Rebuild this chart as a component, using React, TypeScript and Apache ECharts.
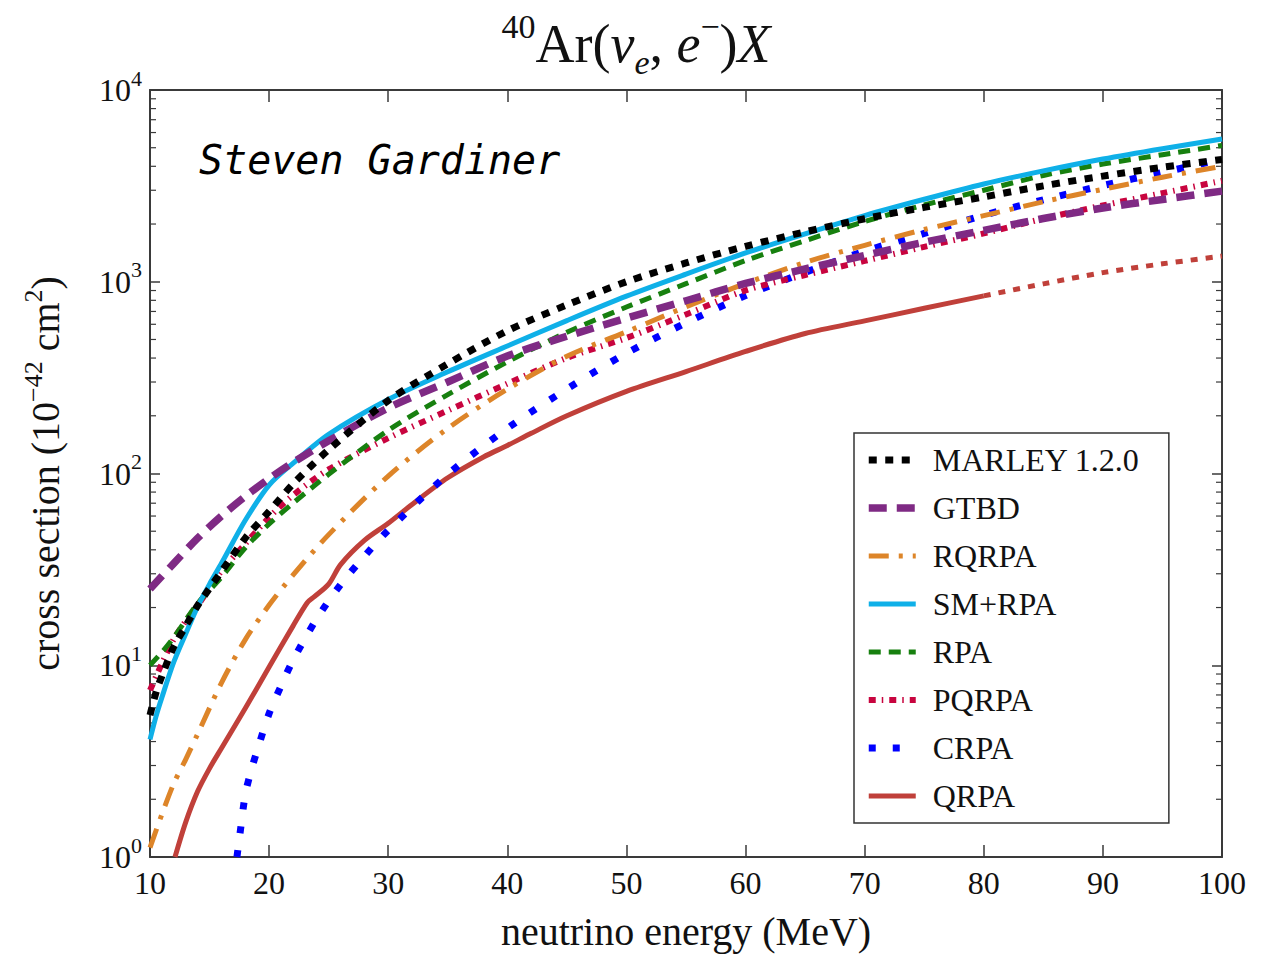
import React, { useEffect, useRef } from "react";
import * as echarts from "echarts";

const SERIF = "'Liberation Serif', 'DejaVu Serif', serif";

// Axis ranges
const energyMin = 10;
const energyMax = 100;
const energyStep = 10;
const xsMin = 1;
const xsMax = 10000;

// Log-axis minor tick positions (2..9 within each decade)
const minorTicks = [
  2, 3, 4, 5, 6, 7, 8, 9,
  20, 30, 40, 50, 60, 70, 80, 90,
  200, 300, 400, 500, 600, 700, 800, 900,
  2000, 3000, 4000, 5000, 6000, 7000, 8000, 9000,
];

// Cross sections (10^-42 cm^2) versus neutrino energy (MeV)
const marleyEnergy = [10, 10.5, 11, 12, 13, 14, 16, 18, 20, 22, 25, 30, 35, 40, 45, 50, 55, 60, 65, 70, 75, 80, 85, 90, 95, 100];
const marleyXS = [5.5, 7.2, 8.8, 12.5, 16, 20.5, 30.8, 46, 63.5, 88, 133, 240, 373, 555, 757, 1000, 1253, 1530, 1820, 2130, 2443, 2770, 3162, 3556, 3954, 4345];

const gtbdEnergy = [10, 12, 14, 16, 18, 20, 22, 25, 30, 35, 40, 45, 50, 55, 60, 65, 70, 75, 80, 85, 90, 95, 100];
const gtbdXS = [25, 34, 46, 60, 76, 94, 114, 148, 220, 300, 410, 520, 646, 796, 980, 1166, 1372, 1607, 1853, 2136, 2426, 2686, 2970];

const rqrpaEnergy = [10, 11, 12, 13, 14, 16, 18, 20, 22, 25, 30, 35, 40, 45, 50, 55, 60, 65, 70, 75, 80, 85, 90, 95, 100];
const rqrpaXS = [1.12, 1.67, 2.42, 3.23, 4.38, 8.1, 13.6, 20.6, 29.5, 48, 97, 172, 275, 409, 548, 740, 980, 1262, 1549, 1872, 2211, 2614, 3034, 3509, 4000];

const smrpaEnergy = [10, 10.5, 11, 12, 13, 14, 15, 16, 18, 20, 22, 25, 30, 35, 40, 45, 50, 55, 60, 65, 70, 75, 80, 85, 90, 95, 100];
const smrpaXS = [4.1, 5.4, 6.8, 10.4, 14.6, 20.2, 26.5, 34, 57, 87, 113, 160, 243, 339, 462, 627, 841, 1096, 1413, 1778, 2213, 2692, 3236, 3784, 4365, 4943, 5546];

const rpaEnergy = [10, 11, 12, 14, 16, 18, 20, 22, 25, 30, 35, 40, 45, 50, 55, 60, 65, 70, 75, 80, 85, 90, 95, 100];
const rpaXS = [10, 11.7, 14, 21, 28.8, 41, 54.6, 70, 99, 168, 258, 382, 545, 738, 977, 1290, 1637, 2062, 2514, 3000, 3584, 4110, 4596, 5140];

const pqrpaEnergy = [10, 11, 12, 13, 14, 16, 18, 20, 22, 25, 30, 35, 40, 45, 50, 55, 60, 65, 70, 75, 80, 85, 90, 95, 100];
const pqrpaXS = [7.4, 10.2, 13.7, 17, 20.5, 31, 43, 59, 77, 105, 153, 213, 294, 401, 509, 675, 901, 1084, 1285, 1520, 1786, 2134, 2500, 2900, 3360];

const crpaEnergy = [17.3, 17.6, 18, 18.5, 19, 20, 21, 22, 24, 26, 28, 30, 35, 40, 45, 50, 55, 60, 65, 70, 75, 80, 85, 90, 95, 100];
const crpaXS = [1.0, 1.39, 2.12, 2.84, 3.6, 5.6, 7.8, 10.6, 17.5, 26.3, 37, 50.6, 99, 172, 276, 424, 610, 847, 1120, 1442, 1786, 2223, 2674, 3175, 3717, 4345];

const qrpaEnergy = [12.1, 13, 14, 15, 16, 18, 20, 22, 23.2, 23.8, 25, 26, 28, 30, 32, 35, 38, 40, 42, 45, 50, 55, 60, 65, 70, 75, 80];
const qrpaXS = [1.0, 1.52, 2.2, 2.9, 3.69, 5.96, 9.8, 16, 21.2, 22.8, 26.5, 33.5, 44.8, 55, 69, 95, 122, 140, 162, 200, 268, 340, 433, 537, 625, 727, 844];

// QRPA beyond 80 MeV (dotted continuation)
const qrpaTailEnergy = [80, 85, 90, 95, 100];
const qrpaTailXS = [844, 975, 1116, 1240, 1360];

const legendNames = ["MARLEY 1.2.0", "GTBD", "RQRPA", "SM+RPA", "RPA", "PQRPA", "CRPA", "QRPA"];

const pairs = (e: number[], v: number[]) => e.map((x, i) => [x, v[i]]);

const curve = (
  name: string,
  energy: number[],
  xs: number[],
  color: string,
  width: number,
  dash: number[] | "solid",
  z: number
) => ({
  type: "line",
  name,
  data: pairs(energy, xs),
  symbol: "none",
  showSymbol: false,
  smooth: 0.3,
  clip: true,
  silent: true,
  z,
  itemStyle: { color },
  lineStyle: { color, width, type: dash, cap: "butt", join: "round" },
  emphasis: { disabled: true },
});

export default function App() {
  const ref = useRef<HTMLDivElement>(null);

  useEffect(() => {
    if (!ref.current) return;
    const chart = echarts.init(ref.current, undefined, { renderer: "svg" });

    const axisLine = { show: true, lineStyle: { color: "#3a3a3a", width: 2 } };
    const tickStyle = { color: "#3a3a3a", width: 1.5 };

    const supRich = {
      b: { fontFamily: SERIF, fontSize: 32, color: "#111", lineHeight: 46 },
      s: { fontFamily: SERIF, fontSize: 22, color: "#111", lineHeight: 20, verticalAlign: "top" },
    };

    const titleBase = { fontFamily: SERIF, color: "#111", fontWeight: "normal" };

    const option: any = {
      animation: false,
      backgroundColor: "#ffffff",
      title: {
        text: "{sup|40}{rm|Ar(}{it|ν}{sub|e}{rm|, }{it|e}{sup|−}{rm|)}{it|X}",
        left: "center",
        top: 4,
        textStyle: {
          fontWeight: "normal",
          rich: {
            rm: { ...titleBase, fontSize: 54, lineHeight: 70 },
            it: { ...titleBase, fontSize: 54, fontStyle: "italic", lineHeight: 70 },
            sup: { ...titleBase, fontSize: 34, lineHeight: 38, verticalAlign: "top" },
            sub: { ...titleBase, fontSize: 34, fontStyle: "italic", lineHeight: 38, verticalAlign: "bottom" },
          },
        },
      },
      grid: { left: 150, right: 50, top: 90, bottom: 96, containLabel: false },
      legend: {
        orient: "vertical",
        left: 854,
        top: 433,
        data: legendNames,
        selectedMode: false,
        itemWidth: 47,
        itemHeight: 10,
        itemGap: 16,
        padding: [11, 29, 11, 11],
        borderColor: "#333",
        borderWidth: 1.5,
        borderRadius: 0,
        backgroundColor: "#fff",
        itemStyle: { opacity: 0 },
        lineStyle: { width: "inherit", type: "inherit" },
        textStyle: {
          fontFamily: SERIF,
          fontSize: 32,
          color: "#111",
          lineHeight: 32,
          padding: [0, 0, 0, 12],
        },
      },
      xAxis: [
        {
          type: "value",
          min: energyMin,
          max: energyMax,
          interval: energyStep,
          name: "neutrino energy (MeV)",
          nameLocation: "middle",
          nameGap: 54,
          nameTextStyle: { fontFamily: SERIF, fontSize: 40, color: "#111" },
          axisLine,
          axisTick: { show: true, inside: true, length: 12, lineStyle: tickStyle },
          axisLabel: { fontFamily: SERIF, fontSize: 32, color: "#111", margin: 10 },
          splitLine: { show: false },
        },
        {
          type: "value",
          position: "top",
          min: energyMin,
          max: energyMax,
          interval: energyStep,
          axisLine,
          axisTick: { show: true, inside: true, length: 12, lineStyle: tickStyle },
          axisLabel: { show: false },
          splitLine: { show: false },
        },
      ],
      yAxis: [
        {
          type: "log",
          logBase: 10,
          min: xsMin,
          max: xsMax,
          name: "{a|cross section (10}{s|−42}{a| cm}{s|2}{a|)}",
          nameLocation: "middle",
          nameRotate: 90,
          nameGap: 80,
          nameTextStyle: {
            rich: {
              a: { fontFamily: SERIF, fontSize: 40, color: "#111", lineHeight: 50 },
              s: { fontFamily: SERIF, fontSize: 26, color: "#111", lineHeight: 24, verticalAlign: "top" },
            },
          },
          axisLine,
          axisTick: { show: true, inside: true, length: 10, lineStyle: tickStyle },
          axisLabel: {
            margin: 8,
            formatter: (v: number) => `{b|10}{s|${Math.round(Math.log10(v))}}`,
            rich: supRich,
          },
          splitLine: { show: false },
        },
        {
          type: "log",
          logBase: 10,
          position: "right",
          min: xsMin,
          max: xsMax,
          axisLine,
          axisTick: { show: true, inside: true, length: 10, lineStyle: tickStyle },
          axisLabel: { show: false },
          splitLine: { show: false },
        },
      ],
      graphic: [
        {
          type: "text",
          left: 199,
          top: 140,
          z: 100,
          style: {
            text: "Steven Gardiner",
            font: "italic 40px 'DejaVu Sans Mono', monospace",
            fill: "#000",
          },
        },
      ],
      series: [
        {
          type: "custom",
          name: "minor ticks",
          silent: true,
          clip: false,
          z: 1,
          data: minorTicks.map((v) => [energyMin, v]),
          renderItem: (_p: any, api: any) => {
            const v = api.value(1);
            const l = api.coord([energyMin, v]);
            const r = api.coord([energyMax, v]);
            const st = { stroke: "#3a3a3a", lineWidth: 1.2 };
            return {
              type: "group",
              children: [
                { type: "line", shape: { x1: l[0], y1: l[1], x2: l[0] + 6, y2: l[1] }, style: st },
                { type: "line", shape: { x1: r[0] - 6, y1: r[1], x2: r[0], y2: r[1] }, style: st },
              ],
            };
          },
        },
        curve("QRPA", qrpaEnergy, qrpaXS, "#c0403a", 5, "solid", 2),
        curve("QRPA extrapolated", qrpaTailEnergy, qrpaTailXS, "#c0403a", 5, [7, 8], 2),
        curve("CRPA", crpaEnergy, crpaXS, "#0000ff", 7, [7, 17], 3),
        curve("PQRPA", pqrpaEnergy, pqrpaXS, "#c8043f", 6, [7, 6, 1.5, 6], 4),
        curve("RPA", rpaEnergy, rpaXS, "#17800f", 5, [12, 8], 5),
        curve("SM+RPA", smrpaEnergy, smrpaXS, "#0fb0e8", 5, "solid", 6),
        curve("RQRPA", rqrpaEnergy, rqrpaXS, "#dd8529", 5, [20, 10, 4, 10], 7),
        curve("GTBD", gtbdEnergy, gtbdXS, "#7f2a84", 7.5, [18, 10], 8),
        curve("MARLEY 1.2.0", marleyEnergy, marleyXS, "#000000", 7, [8, 8.5], 9),
      ],
    };

    chart.setOption(option);
    return () => chart.dispose();
  }, []);

  return (
    <div
      ref={ref}
      style={{ position: "absolute", left: 0, top: 0, width: 1272, height: 956, background: "#fff" }}
    />
  );
}
